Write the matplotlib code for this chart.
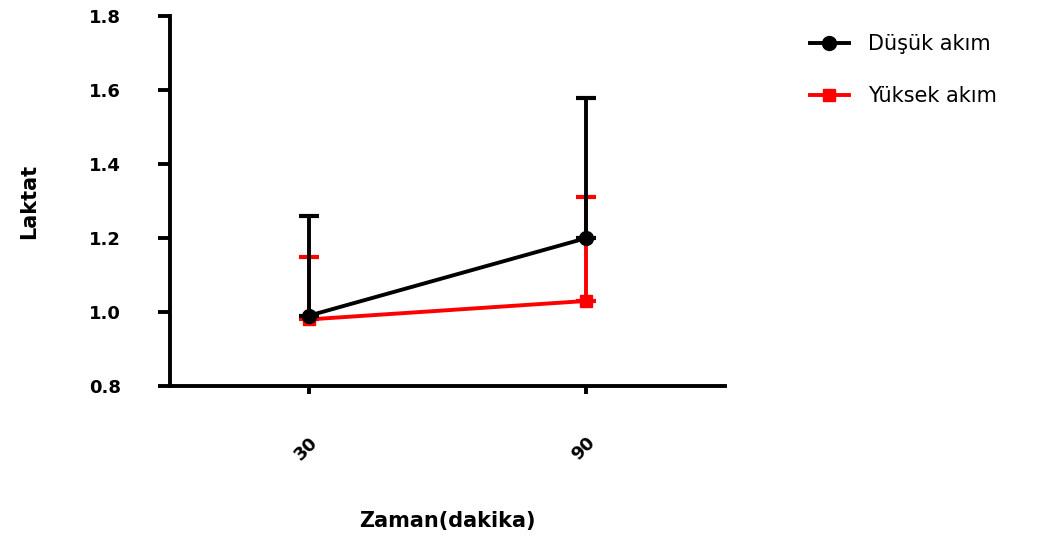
import matplotlib.pyplot as plt
from matplotlib.lines import Line2D

# Laktat degerleri (ortalama ve ust hata)
zaman = ["30", "90"]
dusuk_mean = [0.99, 1.20]
dusuk_err = [0.27, 0.38]
yuksek_mean = [0.98, 1.03]
yuksek_err = [0.17, 0.28]

plt.rcParams["font.family"] = ["DejaVu Sans"]

fig = plt.figure(figsize=(10.42, 5.38), dpi=100)
ax = fig.add_axes([0.163, 0.2825, 0.533, 0.6875])

x = list(range(len(zaman)))
lw = 2.8

ax.errorbar(x, yuksek_mean, yerr=[[0] * len(x), yuksek_err], color="#ff0000",
            marker="s", markersize=9, linewidth=lw, capsize=7, capthick=3,
            elinewidth=lw, zorder=3, clip_on=False)
ax.errorbar(x, dusuk_mean, yerr=[[0] * len(x), dusuk_err], color="black",
            marker="o", markersize=10, linewidth=lw, capsize=7, capthick=3,
            elinewidth=lw, zorder=4, clip_on=False)

ax.set_xlim(-0.5, 1.5)
ax.set_ylim(0.8, 1.8)
ax.set_yticks([0.8, 1.0, 1.2, 1.4, 1.6, 1.8])
ax.set_yticklabels(["0.8", "1.0", "1.2", "1.4", "1.6", "1.8"])
ax.set_xticks(x)
ax.set_xticklabels(zaman, rotation=45, ha="right", rotation_mode="anchor")

for side in ["top", "right"]:
    ax.spines[side].set_visible(False)
for side in ["left", "bottom"]:
    ax.spines[side].set_linewidth(2.8)

ax.tick_params(axis="y", length=9, width=2.8, labelsize=13, pad=26)
ax.tick_params(axis="x", length=6, width=2.8, labelsize=13, pad=28)
for lbl in ax.get_xticklabels() + ax.get_yticklabels():
    lbl.set_fontweight("bold")

ax.set_ylabel("Laktat", fontsize=15, fontweight="bold", labelpad=36)
ax.set_xlabel("Zaman(dakika)", fontsize=15, fontweight="bold", labelpad=34)

handles = [
    Line2D([], [], color="black", marker="o", markersize=10, linewidth=lw),
    Line2D([], [], color="#ff0000", marker="s", markersize=9, linewidth=lw),
]
fig.legend(handles, ["Düşük akım", "Yüksek akım"], loc="upper left",
           bbox_to_anchor=(0.759, 0.972), frameon=False, fontsize=15,
           handlelength=1.9, labelspacing=1.55, handletextpad=0.9)

plt.savefig("out.png", dpi=100)
